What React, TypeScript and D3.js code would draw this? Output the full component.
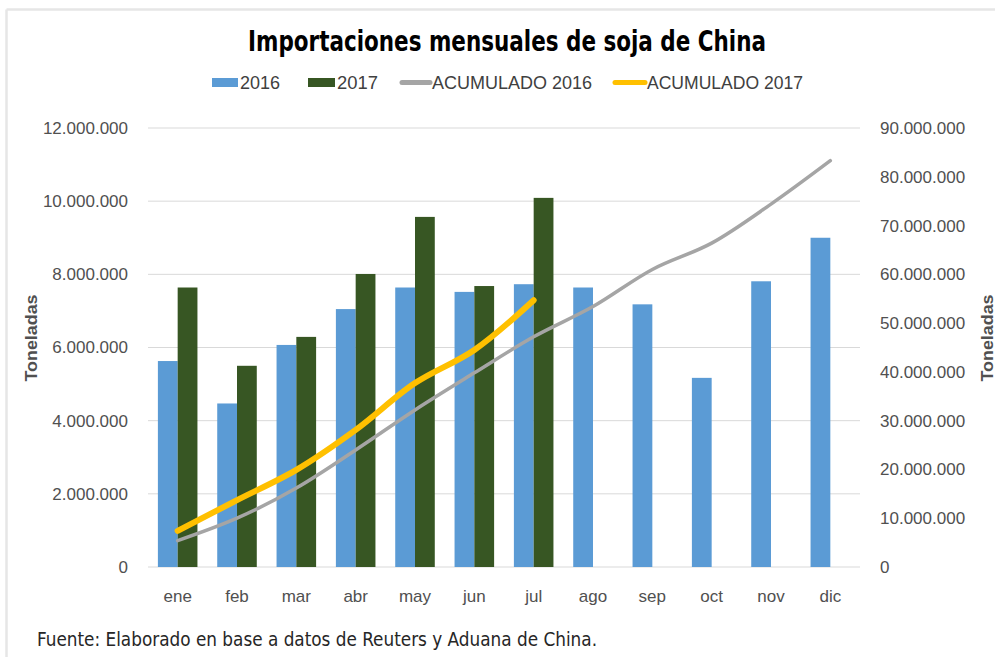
import * as d3 from 'd3';

// Datos (toneladas)
const meses = ['ene', 'feb', 'mar', 'abr', 'may', 'jun', 'jul', 'ago', 'sep', 'oct', 'nov', 'dic'];
const imp2016 = [5630000, 4470000, 6070000, 7050000, 7640000, 7520000, 7730000, 7640000, 7180000, 5170000, 7810000, 9000000];
const imp2017 = [7640000, 5500000, 6290000, 8010000, 9570000, 7680000, 10090000, null, null, null, null, null];
const acum2016 = [5400000, 10000000, 16200000, 24000000, 32200000, 39800000, 47200000, 53400000, 61000000, 66400000, 74400000, 83300000];
const acum2017 = [7400000, 13700000, 19900000, 28100000, 37700000, 44500000, 54700000];
const ticksIzq = [0, 2000000, 4000000, 6000000, 8000000, 10000000, 12000000];
const ticksDer = [0, 10000000, 20000000, 30000000, 40000000, 50000000, 60000000, 70000000, 80000000, 90000000];

const W = 995;
const H = 657;
const plot = { left: 148, right: 860, top: 128, bottom: 567 };

const AZUL = '#5b9bd5';
const VERDE = '#375623';
const GRIS = '#a5a5a5';
const AMARILLO = '#ffc000';
const TEXTO = '#505050';
const FONT = '"Liberation Sans", Arial, sans-serif';
const NARROW = '"Liberation Sans Narrow", "DejaVu Sans Condensed", "Arial Narrow", sans-serif';

const fmt = (v: number) => d3.format(',')(v).replace(/,/g, '.');

export default function App() {
  const x = d3.scaleBand<string>().domain(meses).range([plot.left, plot.right]).paddingInner(1 / 3).paddingOuter(1 / 6);
  const xSub = d3.scaleBand<string>().domain(['2016', '2017']).range([0, x.bandwidth()]);
  const yIzq = d3.scaleLinear().domain([0, 12000000]).range([plot.bottom, plot.top]);
  const yDer = d3.scaleLinear().domain([0, 90000000]).range([plot.bottom, plot.top]);
  const cx = (m: string) => (x(m) ?? 0) + x.bandwidth() / 2;

  const linea = d3.line<number>()
    .x((_, i) => cx(meses[i]))
    .y(d => yDer(d))
    .curve(d3.curveCatmullRom.alpha(0.5));

  // leyenda: posición de la marca y del texto
  const leyenda = [
    { mx: 212, mw: 26, tipo: 'rect', color: AZUL, tx: 240, label: '2016', tw: 40 },
    { mx: 308, mw: 27, tipo: 'rect', color: VERDE, tx: 337, label: '2017', tw: 41 },
    { mx: 400, mw: 32, tipo: 'line', color: GRIS, tx: 432, label: 'ACUMULADO 2016', tw: 160 },
    { mx: 613, mw: 34, tipo: 'line', color: AMARILLO, tx: 647, label: 'ACUMULADO 2017', tw: 156 },
  ];

  return (
    <svg width={W} height={H} style={{ position: 'absolute', left: 0, top: 0, background: '#fff' }}>
      {/* borde del recuadro */}
      <line x1={6.5} x2={W} y1={9.5} y2={9.5} stroke="#e6e6e6" strokeWidth={2.5} />
      <line x1={6.5} x2={6.5} y1={9.5} y2={H} stroke="#e6e6e6" strokeWidth={2.5} />

      <text x={507} y={51} textAnchor="middle" fontFamily={NARROW} fontWeight="bold" fontSize={29}
        fill="#000" textLength={518} lengthAdjust="spacingAndGlyphs">
        Importaciones mensuales de soja de China
      </text>

      {leyenda.map(l => (
        <g key={l.label}>
          {l.tipo === 'rect'
            ? <rect x={l.mx} y={78} width={l.mw} height={9} fill={l.color} />
            : <line x1={l.mx + 2} x2={l.mx + l.mw - 2} y1={82.5} y2={82.5} stroke={l.color} strokeWidth={5} strokeLinecap="round" />}
          <text x={l.tx} y={89} fontFamily={FONT} fontSize={18} fill="#404040"
            textLength={l.tw} lengthAdjust="spacingAndGlyphs">{l.label}</text>
        </g>
      ))}

      {/* líneas de cuadrícula */}
      {ticksIzq.map(t => (
        <line key={t} x1={plot.left} x2={plot.right} y1={yIzq(t)} y2={yIzq(t)} stroke="#d9d9d9" strokeWidth={1} />
      ))}

      {/* eje izquierdo */}
      {ticksIzq.map(t => (
        <text key={t} x={128} y={yIzq(t)} dy="0.35em" textAnchor="end" fontFamily={FONT} fontSize={17} fill={TEXTO}>{fmt(t)}</text>
      ))}
      {/* eje derecho */}
      {ticksDer.map(t => (
        <text key={t} x={880} y={yDer(t)} dy="0.35em" textAnchor="start" fontFamily={FONT} fontSize={17} fill={TEXTO}>{fmt(t)}</text>
      ))}

      <text transform="translate(37,338) rotate(-90)" textAnchor="middle" fontFamily={FONT} fontWeight="bold"
        fontSize={16} fill={TEXTO} textLength={87} lengthAdjust="spacingAndGlyphs">Toneladas</text>
      <text transform="translate(993,338) rotate(-90)" textAnchor="middle" fontFamily={FONT} fontWeight="bold"
        fontSize={16} fill={TEXTO} textLength={87} lengthAdjust="spacingAndGlyphs">Toneladas</text>

      {/* barras */}
      {meses.map((m, i) => (
        <g key={m} transform={`translate(${x(m)},0)`}>
          <rect x={xSub('2016')} y={yIzq(imp2016[i])} width={xSub.bandwidth()} height={yIzq(0) - yIzq(imp2016[i])} fill={AZUL} />
          {imp2017[i] != null && (
            <rect x={xSub('2017')} y={yIzq(imp2017[i] as number)} width={xSub.bandwidth()}
              height={yIzq(0) - yIzq(imp2017[i] as number)} fill={VERDE} />
          )}
        </g>
      ))}

      {/* acumulados */}
      <path d={linea(acum2016) ?? ''} fill="none" stroke={GRIS} strokeWidth={3.5} strokeLinecap="round" strokeLinejoin="round" />
      <path d={linea(acum2017) ?? ''} fill="none" stroke={AMARILLO} strokeWidth={6} strokeLinecap="round" strokeLinejoin="round" />

      {/* eje x */}
      {meses.map(m => (
        <text key={m} x={cx(m)} y={602} textAnchor="middle" fontFamily={FONT} fontSize={17} fill={TEXTO}>{m}</text>
      ))}

      <text x={37} y={646} fontFamily={NARROW} fontSize={19} fill="#262626" textLength={560} lengthAdjust="spacingAndGlyphs">
        Fuente: Elaborado en base a datos de Reuters y Aduana de China.
      </text>
    </svg>
  );
}
